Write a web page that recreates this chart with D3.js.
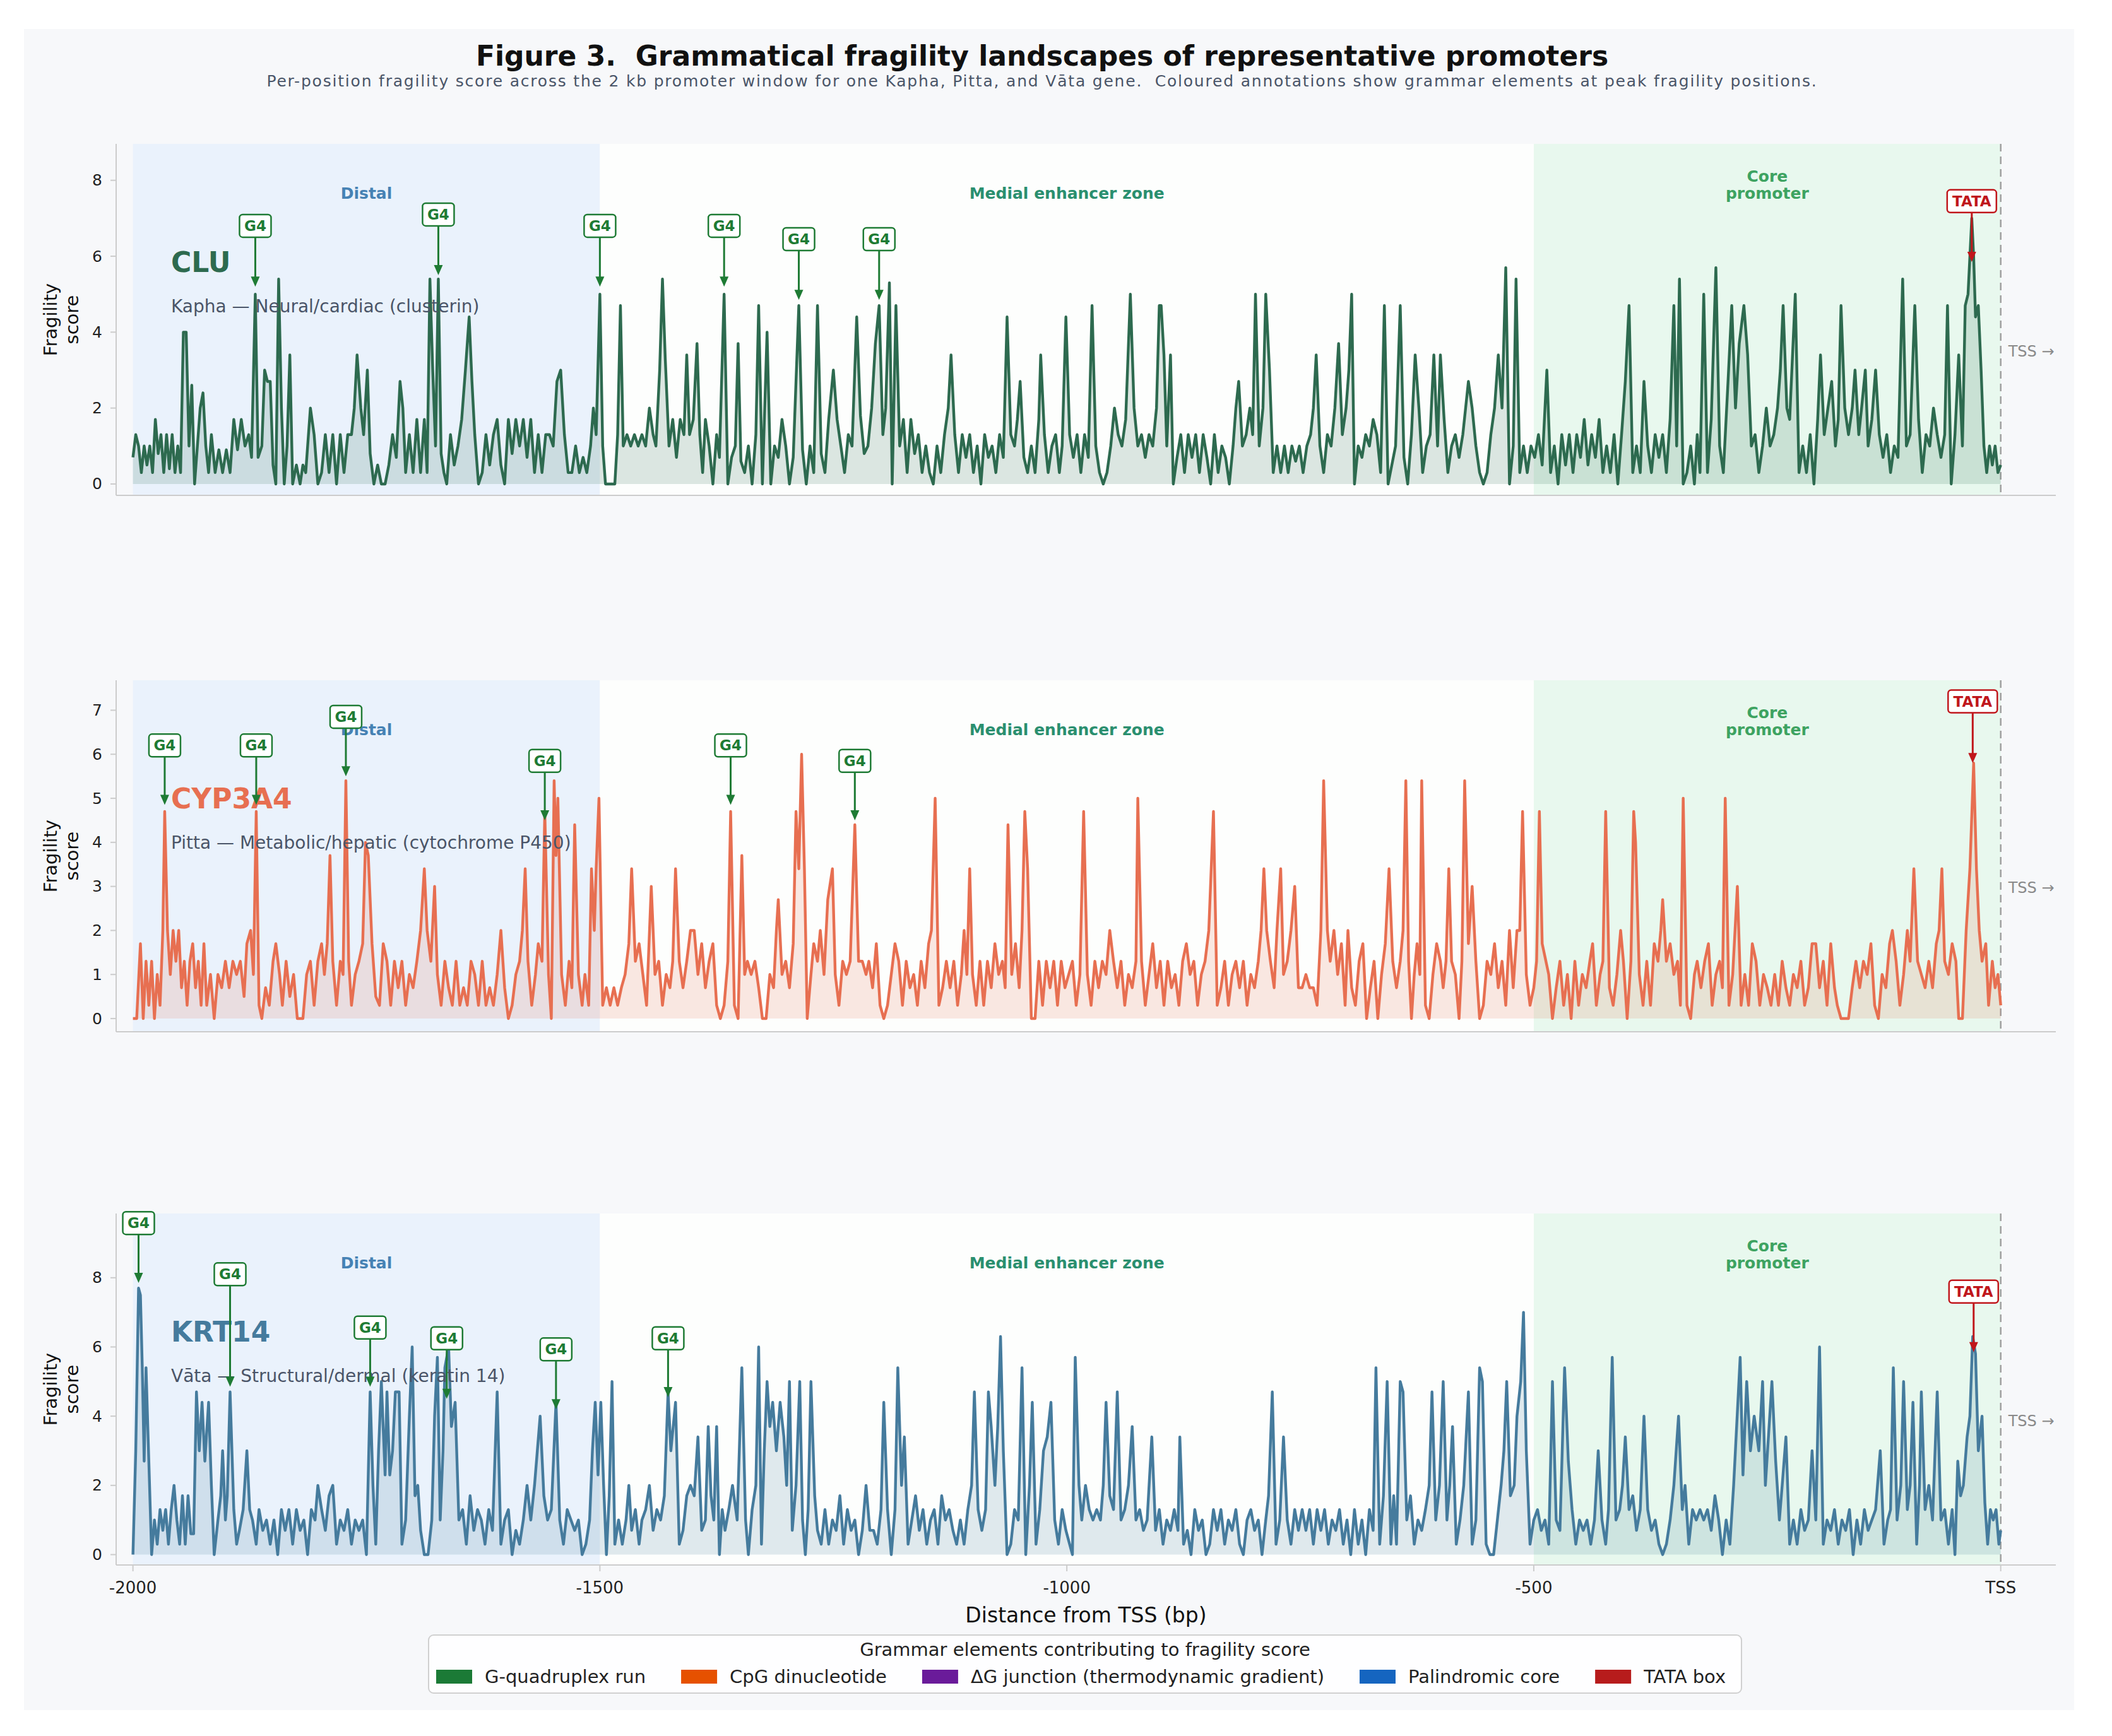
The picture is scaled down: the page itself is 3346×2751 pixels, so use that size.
<!DOCTYPE html>
<html>
<head>
<meta charset="utf-8">
<script src="https://cdn.jsdelivr.net/npm/d3@7"></script>
<style>
  body { margin: 0; background: #fff; }
  svg text { font-family: "DejaVu Sans", sans-serif; white-space: pre; }
</style>
</head>
<body>
<div id="chart"></div>
<script>
// ---- data -------------------------------------------------------------

var zoneNames = ["Distal", "Medial enhancer zone", "Core\npromoter"];
var zoneStarts = [-2000, -1500, -500];
var zoneEnds = [-1500, -500, 0];

var xTickValues = [-2000, -1500, -1000, -500, 0];
var xTickLabels = ["-2000", "-1500", "-1000", "-500", "TSS"];

var geneNames = ["CLU", "CYP3A4", "KRT14"];
var geneNotes = [
  "Kapha — Neural/cardiac (clusterin)",
  "Pitta — Metabolic/hepatic (cytochrome P450)",
  "Vāta — Structural/dermal (keratin 14)"
];

var yTicksClu = [0, 2, 4, 6, 8];
var yTicksCyp = [0, 1, 2, 3, 4, 5, 6, 7];
var yTicksKrt = [0, 2, 4, 6, 8];

var legendLabels = ["G-quadruplex run", "CpG dinucleotide", "ΔG junction (thermodynamic gradient)", "Palindromic core", "TATA box"];

// per-position fragility score, [distance from TSS, score]
var cluTrace = [
  [-2000,0.7],[-1997,1.3],[-1994,1.0],[-1991,0.3],[-1988,1.0],[-1985,0.5],[-1982,1.0],[-1979,0.3],[-1976,1.7],[-1973,0.8],
  [-1970,1.3],[-1967,0.3],[-1964,1.3],[-1961,0.4],[-1958,1.3],[-1955,0.3],[-1952,1.0],[-1949,0.3],[-1946,4.0],[-1943,4.0],
  [-1940,1.0],[-1937,2.6],[-1934,0],[-1931,1.0],[-1928,2.0],[-1925,2.4],[-1922,1.0],[-1919,0.3],[-1916,1.3],[-1912,0.3],
  [-1908,0.9],[-1904,0.3],[-1900,0.9],[-1896,0.3],[-1892,1.7],[-1888,0.9],[-1884,1.7],[-1880,1.0],[-1876,1.3],[-1873,0.7],
  [-1869,5.0],[-1866,0.7],[-1862,1.0],[-1859,3.0],[-1856,2.7],[-1853,2.7],[-1850,0.5],[-1847,0],[-1844,5.4],[-1841,2.0],
  [-1838,0],[-1835,1.0],[-1832,3.4],[-1829,0],[-1825,0.5],[-1821,0],[-1818,0.5],[-1815,0.3],[-1810,2.0],[-1806,1.3],
  [-1802,0],[-1798,0.3],[-1794,1.3],[-1790,0.3],[-1786,1.3],[-1782,0],[-1778,1.3],[-1774,0.3],[-1770,1.3],[-1766,1.3],
  [-1763,2.0],[-1760,3.4],[-1756,2.0],[-1753,1.3],[-1749,3.0],[-1746,0.8],[-1742,0],[-1738,0.5],[-1734,0],[-1730,0],
  [-1726,0.5],[-1722,1.3],[-1718,0.7],[-1714,2.7],[-1711,2.0],[-1708,0.3],[-1704,1.3],[-1700,0.3],[-1696,1.7],[-1692,0.3],
  [-1688,1.7],[-1685,0.3],[-1682,5.4],[-1679,3.0],[-1676,1.0],[-1673,5.4],[-1670,0.8],[-1667,0.3],[-1664,0],[-1660,1.3],
  [-1656,0.5],[-1652,1.0],[-1648,1.7],[-1644,3.0],[-1640,4.4],[-1637,2.7],[-1634,1.3],[-1630,0],[-1626,0.3],[-1622,1.3],
  [-1618,0.5],[-1614,1.3],[-1610,1.7],[-1606,0.5],[-1602,0],[-1598,1.7],[-1594,0.8],[-1590,1.7],[-1586,1.0],[-1582,1.7],
  [-1578,0.7],[-1574,1.7],[-1570,0.3],[-1566,1.3],[-1562,0.3],[-1558,1.3],[-1554,1.3],[-1550,1.0],[-1546,2.7],[-1542,3.0],
  [-1538,1.3],[-1534,0.3],[-1530,0.3],[-1526,1.0],[-1522,0.3],[-1518,0.7],[-1514,0.3],[-1510,1.0],[-1507,2.0],[-1504,1.3],
  [-1500,5.0],[-1497,1.0],[-1494,0],[-1488,0],[-1484,0],[-1481,1.3],[-1478,4.7],[-1475,1.0],[-1471,1.3],[-1467,1.0],
  [-1463,1.3],[-1459,1.0],[-1455,1.3],[-1451,1.0],[-1447,2.0],[-1443,1.3],[-1440,1.0],[-1436,3.0],[-1433,5.4],[-1430,3.3],
  [-1426,1.0],[-1422,1.7],[-1418,0.7],[-1414,1.7],[-1410,1.3],[-1407,3.4],[-1404,1.3],[-1400,1.7],[-1396,3.7],[-1393,1.3],
  [-1390,0.3],[-1387,1.7],[-1383,1.0],[-1379,0],[-1375,1.3],[-1372,0.7],[-1367,5.0],[-1363,0],[-1359,0.7],[-1355,1.0],
  [-1352,3.7],[-1349,0.6],[-1345,0.3],[-1341,1.0],[-1337,0],[-1333,1.3],[-1330,4.7],[-1326,0],[-1321,4.0],[-1317,0],
  [-1313,1.0],[-1309,0.7],[-1305,1.7],[-1301,1.0],[-1297,0],[-1293,0.7],[-1287,4.7],[-1283,0.9],[-1279,0],[-1275,1.0],
  [-1271,0.3],[-1267,4.7],[-1263,0.8],[-1259,0.3],[-1255,1.7],[-1250,3.0],[-1246,1.7],[-1242,1.0],[-1238,0.3],[-1234,1.3],
  [-1230,1.0],[-1225,4.4],[-1221,1.8],[-1217,0.8],[-1213,1.0],[-1209,2.0],[-1205,3.7],[-1201,4.7],[-1197,1.3],[-1194,2.0],
  [-1190,5.3],[-1187,0],[-1183,4.7],[-1179,1.0],[-1175,1.7],[-1171,0.3],[-1167,1.7],[-1163,0.8],[-1159,1.3],[-1155,0.3],
  [-1151,1.0],[-1147,0.3],[-1143,0],[-1139,1.0],[-1135,0.3],[-1131,1.3],[-1127,2.0],[-1124,3.4],[-1120,1.3],[-1116,0.3],
  [-1112,1.3],[-1108,0.7],[-1104,1.3],[-1100,0.3],[-1096,1.0],[-1092,0],[-1088,1.3],[-1084,0.7],[-1080,1.0],[-1076,0.3],
  [-1072,1.3],[-1068,0.7],[-1064,4.4],[-1060,1.3],[-1056,1.0],[-1053,1.7],[-1050,2.7],[-1046,0.7],[-1042,0.3],[-1038,1.0],
  [-1034,0.3],[-1030,1.7],[-1028,3.4],[-1024,1.3],[-1020,0.3],[-1016,1.0],[-1012,1.3],[-1008,0.3],[-1005,1.0],[-1001,4.4],
  [-997,1.3],[-993,0.7],[-989,1.3],[-985,0.3],[-981,1.3],[-977,0.7],[-973,4.7],[-969,1.0],[-965,0.3],[-961,0],
  [-957,0.3],[-953,1.0],[-949,2.0],[-945,1.3],[-941,1.0],[-937,1.7],[-932,5.0],[-928,2.0],[-924,1.0],[-920,1.3],
  [-916,0.7],[-912,1.3],[-908,1.0],[-904,2.0],[-901,4.7],[-899,4.7],[-896,3.4],[-893,1.0],[-889,3.4],[-886,0],
  [-882,0.7],[-878,1.3],[-874,0.3],[-870,1.3],[-866,0.7],[-862,1.3],[-858,0.3],[-854,1.3],[-850,0.7],[-846,0],
  [-842,1.3],[-838,0.3],[-834,1.0],[-830,0.7],[-826,0],[-822,1.0],[-819,2.0],[-816,2.7],[-812,1.0],[-808,1.3],
  [-804,2.0],[-801,1.3],[-798,5.0],[-794,1.0],[-790,2.0],[-787,5.0],[-783,3.0],[-779,0.3],[-775,1.0],[-771,0.3],
  [-767,1.0],[-763,0.3],[-759,1.0],[-755,0.6],[-751,1.0],[-747,0.3],[-743,1.0],[-739,1.3],[-736,2.0],[-733,3.4],
  [-729,1.0],[-725,0.3],[-721,1.3],[-717,1.0],[-713,2.0],[-709,3.7],[-705,1.3],[-701,2.0],[-698,3.0],[-695,5.0],
  [-692,0],[-688,1.0],[-684,0.7],[-680,1.3],[-676,1.0],[-672,1.7],[-668,1.3],[-664,0.3],[-660,4.7],[-656,0],
  [-652,0.5],[-648,1.0],[-643,4.7],[-639,0.7],[-635,0],[-631,1.3],[-627,3.4],[-623,2.0],[-619,0.3],[-615,1.0],
  [-611,1.3],[-607,3.4],[-603,1.0],[-600,3.4],[-596,1.7],[-592,0.3],[-588,1.0],[-584,1.3],[-580,0.7],[-576,1.3],
  [-573,2.0],[-570,2.7],[-566,2.0],[-562,1.0],[-558,0.3],[-554,0],[-550,0.3],[-546,1.3],[-542,2.0],[-538,3.4],
  [-534,2.0],[-530,5.7],[-526,0],[-522,1.0],[-519,5.4],[-515,0.3],[-511,1.0],[-507,0.3],[-503,1.0],[-499,0.7],
  [-495,1.3],[-491,0.5],[-486,3.0],[-482,0.3],[-478,1.0],[-474,0],[-470,1.3],[-466,0.5],[-462,1.3],[-458,0.3],
  [-454,1.3],[-450,0.7],[-446,1.7],[-442,0.5],[-438,1.3],[-434,0.7],[-430,1.7],[-426,0.3],[-422,1.0],[-418,0.3],
  [-414,1.3],[-410,0],[-406,1.3],[-402,2.7],[-398,4.7],[-394,0.3],[-390,1.0],[-386,0.3],[-382,2.7],[-378,1.0],
  [-374,0.3],[-370,1.3],[-366,0.7],[-362,1.3],[-358,0.3],[-354,1.7],[-350,4.7],[-347,1.0],[-344,5.4],[-340,0],
  [-336,0.3],[-332,1.0],[-328,0],[-325,1.3],[-322,0.3],[-318,5.0],[-314,0.3],[-310,1.7],[-305,5.7],[-301,1.0],
  [-297,0.3],[-292,2.7],[-288,4.7],[-284,2.0],[-280,3.7],[-275,4.7],[-271,3.4],[-267,1.0],[-263,1.3],[-259,0.3],
  [-255,1.0],[-251,2.0],[-247,1.0],[-243,1.3],[-239,2.0],[-236,3.0],[-233,4.7],[-229,2.0],[-226,1.7],[-220,5.0],
  [-216,0.3],[-212,1.0],[-208,0.3],[-204,1.3],[-200,0],[-196,1.7],[-193,3.4],[-189,1.3],[-185,2.0],[-181,2.7],
  [-177,1.0],[-174,1.7],[-171,4.7],[-167,2.0],[-163,1.3],[-159,2.0],[-156,3.0],[-152,1.3],[-149,2.0],[-145,3.0],
  [-142,1.0],[-138,1.7],[-134,3.0],[-130,1.3],[-126,0.7],[-122,1.3],[-118,0.3],[-114,1.0],[-110,0.7],[-105,5.4],
  [-101,1.0],[-97,1.3],[-92,4.7],[-88,1.7],[-84,0.3],[-80,1.3],[-76,1.0],[-72,2.0],[-68,1.3],[-64,0.7],
  [-60,1.3],[-57,4.7],[-53,0],[-49,1.3],[-45,3.4],[-41,1.0],[-38,4.7],[-35,5.0],[-31,7.0],[-29,6.0],
  [-27,4.4],[-24,4.7],[-21,3.0],[-18,1.0],[-15,0.3],[-12,1.0],[-9,0.5],[-6,1.0],[-3,0.3],[0,0.5]
];

var cypTrace = [
  [-2000,0],[-1996,0],[-1992,1.7],[-1989,0],[-1986,1.3],[-1983,0.3],[-1980,1.3],[-1977,0],[-1974,1.0],[-1971,0.3],
  [-1968,2.0],[-1966,4.7],[-1963,2.0],[-1960,1.0],[-1957,2.0],[-1954,1.3],[-1951,2.0],[-1948,0.7],[-1945,1.3],[-1942,0.3],
  [-1939,1.3],[-1936,1.7],[-1933,0.7],[-1930,1.3],[-1927,0.3],[-1924,1.7],[-1921,0.3],[-1917,1.0],[-1913,0],[-1909,1.0],
  [-1905,0.7],[-1901,1.3],[-1897,0.7],[-1893,1.3],[-1889,1.0],[-1885,1.3],[-1881,0.5],[-1878,1.7],[-1874,2.0],[-1871,1.0],
  [-1868,4.7],[-1865,0.3],[-1862,0],[-1858,0.7],[-1854,0.3],[-1850,1.3],[-1847,1.7],[-1843,1.0],[-1840,0.3],[-1836,1.3],
  [-1832,0.5],[-1828,1.0],[-1824,0],[-1818,0],[-1814,1.0],[-1810,1.3],[-1806,0.3],[-1802,1.3],[-1798,1.7],[-1795,1.0],
  [-1792,1.7],[-1789,3.7],[-1786,1.3],[-1782,0.3],[-1778,1.3],[-1775,1.0],[-1772,5.4],[-1769,1.3],[-1766,0.3],[-1762,1.0],
  [-1758,1.3],[-1754,1.7],[-1751,4.0],[-1748,3.7],[-1744,1.7],[-1740,0.5],[-1736,0.3],[-1732,1.7],[-1728,1.3],[-1724,0.3],
  [-1720,1.3],[-1716,0.7],[-1712,1.3],[-1708,0.3],[-1704,1.0],[-1700,0.7],[-1696,1.3],[-1692,2.0],[-1688,3.4],[-1685,2.0],
  [-1681,1.3],[-1677,3.0],[-1674,1.0],[-1670,0.3],[-1666,1.3],[-1662,0.7],[-1658,0.3],[-1654,1.3],[-1650,0.3],[-1646,0.7],
  [-1642,0.3],[-1638,1.3],[-1634,1.0],[-1630,0.3],[-1626,1.3],[-1622,0.3],[-1618,0.7],[-1614,0.3],[-1610,1.0],[-1606,2.0],
  [-1602,0.7],[-1598,0],[-1594,0.3],[-1590,1.0],[-1586,1.3],[-1583,2.0],[-1580,3.4],[-1577,1.3],[-1573,0.3],[-1569,1.0],
  [-1566,1.7],[-1562,1.3],[-1559,4.7],[-1555,1.0],[-1552,0],[-1549,5.4],[-1547,3.7],[-1545,5.0],[-1541,1.0],[-1537,0.3],
  [-1533,1.3],[-1530,0.7],[-1527,4.4],[-1523,1.0],[-1519,0.3],[-1516,1.0],[-1512,0.3],[-1509,3.4],[-1506,2.0],[-1504,3.4],
  [-1501,5.0],[-1497,0.3],[-1493,0.7],[-1489,0.3],[-1485,0.7],[-1481,0.3],[-1477,0.7],[-1473,1.0],[-1469,1.7],[-1466,3.4],
  [-1462,1.3],[-1458,1.7],[-1454,1.0],[-1450,0.3],[-1445,3.0],[-1441,1.0],[-1437,1.3],[-1433,0.3],[-1429,1.0],[-1425,0.7],
  [-1422,1.3],[-1419,3.4],[-1415,1.3],[-1411,0.7],[-1407,1.3],[-1403,2.0],[-1399,2.0],[-1395,1.0],[-1391,1.7],[-1387,0.7],
  [-1383,1.3],[-1379,1.7],[-1375,0.3],[-1371,0],[-1367,0.3],[-1363,1.3],[-1360,4.7],[-1356,0.3],[-1352,0],[-1348,3.7],
  [-1345,1.0],[-1342,1.3],[-1338,1.0],[-1334,1.3],[-1330,0.7],[-1326,0],[-1322,0],[-1318,1.0],[-1314,0.7],[-1311,2.0],
  [-1309,2.7],[-1305,1.0],[-1301,1.3],[-1297,0.7],[-1293,1.7],[-1290,4.7],[-1287,3.4],[-1284,6.0],[-1281,3.4],[-1278,0],
  [-1274,1.0],[-1271,1.7],[-1267,1.3],[-1264,2.0],[-1260,1.0],[-1256,2.7],[-1251,3.4],[-1248,1.0],[-1244,0.3],[-1240,1.3],
  [-1236,1.0],[-1232,1.3],[-1227,4.4],[-1223,1.3],[-1219,1.3],[-1215,1.0],[-1212,1.3],[-1208,0.7],[-1204,1.7],[-1200,0.3],
  [-1196,0],[-1192,0.3],[-1188,1.0],[-1184,1.7],[-1180,1.3],[-1176,0.3],[-1172,1.3],[-1168,0.7],[-1164,1.0],[-1160,0.3],
  [-1156,1.3],[-1152,0.7],[-1148,1.7],[-1145,2.0],[-1141,5.0],[-1137,0.3],[-1133,0.7],[-1129,1.3],[-1125,0.7],[-1121,1.3],
  [-1117,0.3],[-1113,1.0],[-1110,2.0],[-1107,1.0],[-1104,3.4],[-1101,1.0],[-1097,0.3],[-1093,1.3],[-1089,0.3],[-1085,1.3],
  [-1081,0.7],[-1077,1.7],[-1073,1.0],[-1069,1.3],[-1066,0.7],[-1063,4.4],[-1059,1.0],[-1055,1.7],[-1051,0.7],[-1048,2.0],
  [-1045,4.7],[-1042,3.4],[-1038,0],[-1034,0],[-1030,1.3],[-1026,0.3],[-1022,1.3],[-1018,0.7],[-1014,1.3],[-1010,0.3],
  [-1006,1.3],[-1002,0.7],[-998,1.0],[-994,1.3],[-990,0.3],[-986,1.0],[-982,4.7],[-978,1.0],[-974,0.3],[-970,1.3],
  [-966,0.7],[-962,1.3],[-958,1.0],[-954,2.0],[-950,1.3],[-946,0.7],[-942,1.3],[-938,0.3],[-934,1.0],[-930,0.7],
  [-926,1.3],[-924,5.0],[-920,1.3],[-916,0.3],[-912,1.0],[-908,1.7],[-904,0.7],[-900,1.3],[-896,0.3],[-892,1.3],
  [-888,0.7],[-884,1.0],[-880,0.3],[-876,1.3],[-872,1.7],[-868,1.0],[-864,1.3],[-860,0.3],[-856,1.0],[-852,1.3],
  [-848,2.0],[-843,4.7],[-839,0.3],[-835,0.7],[-831,1.3],[-827,0.3],[-823,1.0],[-819,1.3],[-815,0.7],[-811,1.3],
  [-807,0.3],[-803,1.0],[-799,0.7],[-795,1.3],[-792,2.0],[-789,3.4],[-786,2.0],[-782,1.3],[-778,0.7],[-775,2.0],
  [-771,3.4],[-768,1.0],[-764,1.3],[-760,2.0],[-756,3.0],[-752,0.7],[-748,0.7],[-744,1.0],[-740,0.7],[-736,0.7],
  [-732,0.3],[-728,2.0],[-725,5.4],[-721,2.0],[-718,1.3],[-714,2.0],[-710,1.0],[-706,1.7],[-702,0.3],[-699,2.0],
  [-695,0.7],[-691,0.3],[-687,1.3],[-683,1.7],[-679,0],[-675,0.7],[-671,1.3],[-667,0],[-663,1.0],[-659,1.7],
  [-655,3.4],[-651,1.3],[-647,0.7],[-643,1.3],[-640,2.0],[-637,5.4],[-634,1.3],[-631,0],[-628,1.0],[-625,1.7],
  [-622,1.0],[-620,5.4],[-616,0.3],[-612,0],[-608,1.0],[-604,1.7],[-600,1.3],[-597,0.7],[-594,1.3],[-591,3.4],
  [-588,1.3],[-584,1.0],[-580,0],[-577,1.3],[-574,5.4],[-570,1.7],[-566,3.0],[-562,1.3],[-558,0],[-554,0.3],
  [-550,1.3],[-546,1.0],[-542,1.7],[-538,0.7],[-534,1.3],[-530,0.3],[-526,2.0],[-522,0.7],[-518,2.0],[-515,2.0],
  [-512,4.7],[-508,1.0],[-504,0.3],[-500,0.7],[-497,1.3],[-494,4.7],[-491,1.7],[-487,1.3],[-484,1.0],[-480,0],
  [-476,0.7],[-472,1.3],[-468,0.3],[-464,1.0],[-460,0],[-456,1.3],[-452,0.3],[-448,1.0],[-444,0.7],[-440,1.3],
  [-437,1.7],[-433,0.3],[-429,1.0],[-426,1.3],[-423,4.7],[-419,0.7],[-415,0.3],[-411,1.0],[-407,2.0],[-404,1.3],
  [-400,0],[-396,1.3],[-393,4.7],[-391,4.0],[-387,1.0],[-383,0.3],[-379,1.3],[-375,0.3],[-371,1.7],[-367,1.3],
  [-364,2.0],[-362,2.7],[-358,1.3],[-354,1.7],[-350,1.0],[-346,1.3],[-343,0.3],[-340,5.0],[-336,0.3],[-332,0],
  [-328,1.0],[-325,1.3],[-321,0.7],[-317,1.3],[-313,1.7],[-309,0.3],[-305,1.0],[-301,1.3],[-298,0.7],[-295,5.0],
  [-291,0.3],[-287,1.0],[-282,3.0],[-278,0.3],[-274,1.0],[-270,0.3],[-266,1.7],[-262,1.3],[-258,0.3],[-254,1.0],
  [-250,0.7],[-246,0.3],[-242,1.0],[-238,0.3],[-234,1.3],[-230,0.7],[-226,0.3],[-222,1.0],[-218,0.7],[-214,1.3],
  [-210,0.3],[-206,0.7],[-202,1.7],[-198,1.7],[-194,0.7],[-190,1.3],[-186,0.3],[-182,1.7],[-178,0.7],[-175,0.3],
  [-171,0],[-163,0],[-159,0.7],[-155,1.3],[-151,0.7],[-147,1.3],[-143,1.0],[-139,1.7],[-135,0.3],[-131,0],
  [-127,1.0],[-123,0.7],[-119,1.7],[-116,2.0],[-112,1.3],[-108,0.3],[-104,1.0],[-100,2.0],[-97,1.3],[-93,3.4],
  [-89,1.3],[-85,1.0],[-81,0.7],[-77,1.3],[-73,0.7],[-69,1.7],[-66,2.0],[-63,3.4],[-60,1.3],[-56,1.0],
  [-52,1.7],[-48,1.3],[-45,0],[-41,0],[-37,2.0],[-33,3.4],[-29,5.8],[-26,3.4],[-23,2.0],[-20,1.3],
  [-16,1.7],[-13,0.3],[-9,1.3],[-6,0.7],[-3,1.0],[0,0.3]
];

var krtTrace = [
  [-2000,0],[-1997,3.0],[-1994,7.7],[-1992,7.5],[-1990,5.4],[-1988,2.7],[-1986,5.4],[-1983,2.7],[-1980,0],[-1977,1.0],
  [-1974,0.3],[-1971,1.3],[-1968,0.7],[-1965,1.3],[-1962,0.3],[-1959,1.3],[-1956,2.0],[-1953,1.0],[-1950,0.3],[-1947,1.7],
  [-1944,0.3],[-1941,1.7],[-1938,0.6],[-1935,0.6],[-1932,4.7],[-1929,3.0],[-1926,4.4],[-1923,2.7],[-1919,4.4],[-1916,2.0],
  [-1913,0],[-1909,1.0],[-1906,1.7],[-1904,3.0],[-1901,1.0],[-1899,1.7],[-1896,4.7],[-1892,1.3],[-1889,0.3],[-1886,0.7],
  [-1882,1.3],[-1878,3.0],[-1875,1.3],[-1872,1.0],[-1868,0.3],[-1865,1.3],[-1861,0.7],[-1857,1.0],[-1853,0.3],[-1849,1.0],
  [-1845,0],[-1841,1.3],[-1837,0.7],[-1833,1.3],[-1829,0.3],[-1825,1.3],[-1821,0.7],[-1817,1.0],[-1813,0],[-1809,1.3],
  [-1805,1.0],[-1802,2.0],[-1798,1.3],[-1794,0.7],[-1790,1.7],[-1786,2.0],[-1782,0.3],[-1778,1.0],[-1774,0.7],[-1770,1.3],
  [-1766,0.3],[-1762,1.0],[-1758,0.7],[-1754,1.0],[-1750,0],[-1746,4.7],[-1743,2.0],[-1740,0.3],[-1737,3.0],[-1734,5.0],
  [-1730,2.3],[-1728,4.7],[-1725,2.3],[-1722,3.0],[-1719,4.7],[-1715,4.7],[-1712,0.3],[-1708,1.0],[-1704,4.0],[-1701,6.0],
  [-1698,1.7],[-1695,2.0],[-1692,0.7],[-1688,0],[-1684,0],[-1680,1.0],[-1677,4.0],[-1674,5.7],[-1671,1.0],[-1668,3.0],
  [-1666,5.4],[-1662,6.0],[-1659,3.7],[-1655,4.4],[-1651,1.0],[-1647,1.3],[-1643,0.3],[-1639,1.7],[-1635,0.7],[-1631,1.3],
  [-1627,1.0],[-1623,0.3],[-1619,1.3],[-1615,0.7],[-1610,4.7],[-1606,0.3],[-1602,1.0],[-1598,1.3],[-1594,0],[-1590,0.7],
  [-1586,0.3],[-1582,1.0],[-1578,2.0],[-1574,1.0],[-1570,2.0],[-1567,3.0],[-1564,4.0],[-1560,1.7],[-1556,1.0],[-1552,1.3],
  [-1547,4.4],[-1543,1.0],[-1539,0.3],[-1535,1.3],[-1531,1.0],[-1527,0.7],[-1523,1.0],[-1519,0],[-1515,0.3],[-1511,1.0],
  [-1508,3.0],[-1505,4.4],[-1502,2.3],[-1499,4.4],[-1496,2.0],[-1493,0],[-1490,1.7],[-1487,5.0],[-1484,0.3],[-1480,1.0],
  [-1476,0.3],[-1472,1.0],[-1469,2.0],[-1466,0.7],[-1462,1.3],[-1458,0.3],[-1455,1.0],[-1451,1.3],[-1447,2.0],[-1443,0.7],
  [-1439,1.3],[-1435,1.0],[-1431,1.7],[-1427,4.7],[-1424,3.0],[-1419,4.4],[-1415,0.3],[-1411,0.7],[-1407,1.7],[-1403,2.0],
  [-1399,1.7],[-1395,3.4],[-1391,0.7],[-1387,1.0],[-1384,3.7],[-1381,1.7],[-1378,1.0],[-1375,3.7],[-1372,0],[-1369,1.3],
  [-1366,0.7],[-1362,1.3],[-1358,2.0],[-1353,1.0],[-1348,5.4],[-1344,1.0],[-1341,0],[-1337,1.3],[-1333,2.0],[-1330,6.0],
  [-1327,0.3],[-1324,3.0],[-1321,5.0],[-1318,3.7],[-1315,4.4],[-1311,3.0],[-1307,4.4],[-1303,3.4],[-1300,2.0],[-1297,5.0],
  [-1294,0.7],[-1290,2.0],[-1286,5.0],[-1283,1.0],[-1280,0],[-1277,1.3],[-1274,5.0],[-1270,1.7],[-1267,0.7],[-1263,0.3],
  [-1259,1.3],[-1255,0.3],[-1251,1.0],[-1247,0.7],[-1243,1.7],[-1239,0.3],[-1235,1.3],[-1231,0.7],[-1227,1.0],[-1223,0],
  [-1219,0.7],[-1215,2.0],[-1211,0.7],[-1207,0.7],[-1203,0.3],[-1199,1.3],[-1196,4.4],[-1192,1.3],[-1188,0],[-1184,1.3],
  [-1181,5.4],[-1177,2.0],[-1174,3.4],[-1170,0.3],[-1166,1.0],[-1162,1.7],[-1158,0.7],[-1154,1.3],[-1150,0.3],[-1146,1.0],
  [-1142,1.3],[-1138,0.3],[-1134,1.7],[-1130,1.0],[-1126,1.3],[-1122,0.7],[-1118,0.3],[-1114,1.0],[-1110,0.3],[-1106,1.3],
  [-1102,2.0],[-1099,4.7],[-1095,1.3],[-1091,0.7],[-1087,1.3],[-1084,4.7],[-1081,3.7],[-1077,2.0],[-1074,3.7],[-1071,6.3],
  [-1068,3.0],[-1064,0],[-1060,0.3],[-1056,1.3],[-1052,1.0],[-1048,5.4],[-1044,0],[-1040,2.0],[-1037,4.4],[-1033,0.3],
  [-1029,1.3],[-1025,3.0],[-1021,3.4],[-1017,4.4],[-1013,1.0],[-1009,0.3],[-1005,1.3],[-1001,0.7],[-997,0.3],[-994,0],
  [-991,5.7],[-987,2.0],[-984,1.0],[-980,2.0],[-976,1.3],[-972,1.0],[-968,1.3],[-964,1.0],[-961,2.0],[-958,4.4],
  [-954,1.7],[-950,1.3],[-946,4.7],[-942,1.0],[-938,1.3],[-934,2.0],[-930,3.7],[-926,1.0],[-922,1.3],[-918,0.7],
  [-914,1.0],[-909,3.4],[-905,0.7],[-901,1.3],[-897,0.3],[-893,1.0],[-889,0.7],[-885,1.3],[-881,0.7],[-879,3.4],
  [-875,0.3],[-871,0.7],[-867,0],[-863,1.3],[-859,0.7],[-855,1.0],[-851,0],[-847,0.3],[-843,1.3],[-839,0.7],
  [-835,1.3],[-831,0.3],[-827,1.0],[-823,0.7],[-819,1.3],[-815,0.3],[-811,0],[-807,1.0],[-803,1.3],[-799,0.7],
  [-795,1.0],[-791,0],[-787,1.0],[-784,1.7],[-780,4.7],[-776,0.3],[-772,1.0],[-768,3.4],[-764,1.0],[-760,0.3],
  [-756,1.3],[-752,0.7],[-748,1.3],[-744,0.7],[-740,1.3],[-736,0.3],[-732,1.3],[-728,0.7],[-724,1.3],[-720,0.3],
  [-716,1.0],[-712,0.7],[-708,1.3],[-704,0.3],[-700,1.0],[-696,0],[-692,1.3],[-688,0.3],[-684,1.0],[-680,0],
  [-676,1.3],[-672,0.7],[-669,5.4],[-665,0.3],[-661,1.7],[-657,5.0],[-653,0.3],[-650,1.7],[-647,0.3],[-643,5.0],
  [-640,4.7],[-636,1.0],[-632,1.7],[-628,0.3],[-624,1.0],[-620,0.7],[-616,1.3],[-612,2.0],[-609,4.7],[-605,1.0],
  [-601,2.0],[-597,5.0],[-593,1.0],[-590,2.0],[-587,3.7],[-583,0.3],[-579,1.0],[-575,2.0],[-570,4.7],[-566,0.3],
  [-562,1.0],[-558,5.4],[-555,5.0],[-551,0.3],[-547,0],[-543,0],[-539,1.0],[-535,2.0],[-532,3.0],[-529,5.0],
  [-525,1.7],[-521,2.0],[-518,4.0],[-514,5.0],[-511,7.0],[-508,3.0],[-504,0.3],[-500,1.0],[-496,1.3],[-492,0.7],
  [-488,1.0],[-484,0.3],[-480,5.0],[-476,1.0],[-472,0.7],[-467,5.4],[-463,2.7],[-459,1.3],[-455,0.3],[-451,1.0],
  [-447,0.7],[-443,1.0],[-439,0.3],[-435,1.0],[-431,3.0],[-427,1.0],[-423,0.3],[-420,1.3],[-416,5.7],[-412,1.0],
  [-408,1.3],[-405,2.0],[-402,3.4],[-398,1.3],[-394,1.7],[-390,0.7],[-386,1.3],[-382,4.0],[-378,1.3],[-374,0.7],
  [-370,1.0],[-366,0.3],[-362,0],[-358,0.3],[-354,1.0],[-350,2.0],[-345,4.0],[-341,1.3],[-338,2.0],[-334,0.3],
  [-330,1.3],[-326,1.0],[-322,1.3],[-318,1.0],[-314,1.3],[-310,0.7],[-306,1.7],[-302,1.0],[-298,0],[-294,1.0],
  [-290,0.3],[-286,2.0],[-279,5.7],[-276,2.3],[-272,5.0],[-268,3.0],[-264,4.0],[-259,3.0],[-255,5.0],[-252,2.0],
  [-245,5.0],[-241,2.7],[-237,1.0],[-234,2.0],[-230,3.4],[-226,0.3],[-222,1.0],[-218,0.3],[-214,1.3],[-210,0.7],
  [-206,1.0],[-202,3.0],[-198,1.0],[-194,6.0],[-190,0.3],[-186,1.0],[-182,0.7],[-178,1.3],[-174,0.3],[-170,1.0],
  [-166,0.7],[-162,1.3],[-158,0],[-154,1.0],[-150,0.3],[-146,1.3],[-142,0.7],[-138,1.0],[-134,1.3],[-129,3.0],
  [-125,0.3],[-121,1.0],[-118,1.3],[-115,5.4],[-111,1.0],[-107,2.0],[-104,5.0],[-100,1.3],[-97,2.0],[-94,4.4],
  [-90,0.3],[-87,2.0],[-85,4.7],[-81,1.3],[-77,2.0],[-73,1.0],[-68,4.7],[-64,1.0],[-60,1.3],[-56,0.3],
  [-52,1.3],[-49,0],[-46,2.7],[-43,1.7],[-40,2.0],[-36,3.4],[-33,4.0],[-30,6.3],[-27,5.8],[-24,3.0],
  [-20,4.0],[-17,1.5],[-14,0.3],[-11,1.3],[-8,1.0],[-5,1.3],[-2,0.3],[0,0.7]
];

// grammar-element call-outs: [position, element, arrow tip score, label score]
var cluMarks = [
  [-1869, "G4", 5.2, 6.8], [-1673, "G4", 5.5, 7.1], [-1500, "G4", 5.2, 6.8],
  [-1367, "G4", 5.2, 6.8], [-1287, "G4", 4.85, 6.45], [-1201, "G4", 4.85, 6.45],
  [-31, "TATA", 5.85, 7.45]
];
var cypMarks = [
  [-1966, "G4", 4.85, 6.2], [-1868, "G4", 4.85, 6.2], [-1772, "G4", 5.5, 6.85],
  [-1559, "G4", 4.5, 5.85], [-1360, "G4", 4.85, 6.2], [-1227, "G4", 4.5, 5.85],
  [-30, "TATA", 5.8, 7.2]
];
var krtMarks = [
  [-1994, "G4", 7.85, 9.58], [-1896, "G4", 4.85, 8.1], [-1746, "G4", 4.85, 6.56],
  [-1664, "G4", 4.5, 6.25], [-1547, "G4", 4.2, 5.93], [-1427, "G4", 4.55, 6.25],
  [-29, "TATA", 5.85, 7.6]
];

// ---- drawing ----------------------------------------------------------

var Chart = (function() {
  var W = 3346, H = 2751;

  // styling lives here, not in the data above
  var geneColors = ["#2D6A4F", "#E76F51", "#457B9D"];
  var zoneFills = ["#EAF2FC", "#FDFEFD", "#E8F8EE"];
  var zoneText = ["#4682B4", "#2A8F6F", "#3DA361"];
  var markColors = { G4: "#1E7B34", TATA: "#C0161B" };
  var legendColors = ["#1B7A36", "#E65100", "#6A1B9A", "#1565C0", "#B71C1C"];

  var axLeft = 184, axRight = 3257;
  var panelTops = [228, 1078, 1923];
  var panelH = 557;

  function init() {
    var svg = d3.select("#chart").append("svg")
      .attr("width", W)
      .attr("height", H);

    svg.append("rect").attr("width", W).attr("height", H).attr("fill", "#fff");
    svg.append("rect")
      .attr("x", 38).attr("y", 46)
      .attr("width", 3248).attr("height", 2664)
      .attr("fill", "#F7F8FA");

    svg.append("text")
      .attr("x", 1651).attr("y", 88)
      .attr("text-anchor", "middle").attr("dominant-baseline", "central")
      .attr("font-size", 44).attr("font-weight", "bold").attr("fill", "#111")
      .text("Figure 3.  Grammatical fragility landscapes of representative promoters");
    svg.append("text")
      .attr("x", 1651).attr("y", 128)
      .attr("text-anchor", "middle").attr("dominant-baseline", "central")
      .attr("font-size", 25).attr("letter-spacing", 1.8).attr("fill", "#4A5568")
      .text("Per-position fragility score across the 2 kb promoter window for one Kapha, Pitta, and Vāta gene.  Coloured annotations show grammar elements at peak fragility positions.");

    var x = d3.scaleLinear().domain([-2018, 59]).range([axLeft, axRight]);

    var traces = [cluTrace, cypTrace, krtTrace];
    var marks = [cluMarks, cypMarks, krtMarks];
    var yTicks = [yTicksClu, yTicksCyp, yTicksKrt];

    for (var i = 0; i < 3; i++) {
      drawPanel(svg, x, i, traces[i], marks[i], yTicks[i], i === 2);
    }

    drawLegend(svg);
  }

  function drawPanel(svg, x, idx, trace, marks, ticks, showX) {
    var top = panelTops[idx], bottom = top + panelH;
    var peak = d3.max(trace, function(d) { return d[1]; });
    var y = d3.scaleLinear().domain([-0.3, peak * 1.28]).range([bottom, top]);
    var color = geneColors[idx];
    var g = svg.append("g").attr("class", "panel");

    // zone shading
    for (var z = 0; z < zoneNames.length; z++) {
      g.append("rect")
        .attr("x", x(zoneStarts[z])).attr("y", top)
        .attr("width", x(zoneEnds[z]) - x(zoneStarts[z])).attr("height", panelH)
        .attr("fill", zoneFills[z]);
      var lines = zoneNames[z].split("\n");
      var cx = x((zoneStarts[z] + zoneEnds[z]) / 2);
      lines.forEach(function(txt, k) {
        g.append("text")
          .attr("x", cx).attr("y", top + 78 - (lines.length - 1 - k) * 27)
          .attr("text-anchor", "middle").attr("dominant-baseline", "central")
          .attr("font-size", 25).attr("font-weight", "bold").attr("fill", zoneText[z])
          .text(txt);
      });
    }

    // TSS marker
    g.append("line")
      .attr("x1", x(0)).attr("x2", x(0)).attr("y1", top).attr("y2", bottom)
      .attr("stroke", "#A0A0A0").attr("stroke-width", 2.5).attr("stroke-dasharray", "12,8");
    g.append("text")
      .attr("x", x(0) + 12).attr("y", bottom - 0.41 * panelH)
      .attr("dominant-baseline", "central")
      .attr("font-size", 24).attr("fill", "#8A8A8A")
      .text("TSS →");

    // spines
    g.append("line").attr("x1", axLeft).attr("x2", axLeft).attr("y1", top).attr("y2", bottom)
      .attr("stroke", "#CCCCCC").attr("stroke-width", 2);
    g.append("line").attr("x1", axLeft).attr("x2", axRight).attr("y1", bottom).attr("y2", bottom)
      .attr("stroke", "#CCCCCC").attr("stroke-width", 2);

    // y axis
    ticks.forEach(function(t) {
      g.append("line").attr("x1", axLeft - 9).attr("x2", axLeft).attr("y1", y(t)).attr("y2", y(t))
        .attr("stroke", "#CCCCCC").attr("stroke-width", 2);
      g.append("text")
        .attr("x", axLeft - 22).attr("y", y(t))
        .attr("text-anchor", "end").attr("dominant-baseline", "central")
        .attr("font-size", 25).attr("fill", "#222")
        .text(t);
    });
    var ylab = g.append("text")
      .attr("transform", "translate(96," + (top + panelH / 2) + ") rotate(-90)")
      .attr("text-anchor", "middle").attr("font-size", 29).attr("fill", "#111");
    ylab.append("tspan").attr("x", 0).attr("dy", "-0.2em").text("Fragility");
    ylab.append("tspan").attr("x", 0).attr("dy", "1.15em").text("score");

    // trace
    var area = d3.area()
      .x(function(d) { return x(d[0]); })
      .y0(y(0))
      .y1(function(d) { return y(d[1]); });
    var line = d3.line()
      .x(function(d) { return x(d[0]); })
      .y(function(d) { return y(d[1]); });

    g.append("path").datum(trace).attr("d", area)
      .attr("fill", color).attr("fill-opacity", 0.16);
    g.append("path").datum(trace).attr("d", line)
      .attr("fill", "none").attr("stroke", color).attr("stroke-width", 4.4)
      .attr("stroke-linejoin", "round");

    // gene label
    g.append("text")
      .attr("x", 271).attr("y", top + 187)
      .attr("dominant-baseline", "central")
      .attr("font-size", 44).attr("font-weight", "bold").attr("fill", color)
      .text(geneNames[idx]);
    g.append("text")
      .attr("x", 271).attr("y", top + 257)
      .attr("dominant-baseline", "central")
      .attr("font-size", 28).attr("fill", "#4A5568")
      .text(geneNotes[idx]);

    // annotations
    marks.forEach(function(m) {
      var mc = markColors[m[1]];
      var mx = x(m[0]), tipY = y(m[2]), boxY = y(m[3]);
      var bw = m[1] === "TATA" ? 78 : 50, bh = 36;
      g.append("line")
        .attr("x1", mx).attr("x2", mx).attr("y1", boxY + bh / 2).attr("y2", tipY - 12)
        .attr("stroke", mc).attr("stroke-width", 3);
      g.append("path")
        .attr("d", "M" + (mx - 7) + "," + (tipY - 16) + "L" + (mx + 7) + "," + (tipY - 16) + "L" + mx + "," + tipY + "Z")
        .attr("fill", mc);
      g.append("rect")
        .attr("x", mx - bw / 2).attr("y", boxY - bh / 2)
        .attr("width", bw).attr("height", bh).attr("rx", 5)
        .attr("fill", "#fff").attr("stroke", mc).attr("stroke-width", 2.5);
      g.append("text")
        .attr("x", mx).attr("y", boxY)
        .attr("text-anchor", "middle").attr("dominant-baseline", "central")
        .attr("font-size", 23).attr("font-weight", "bold").attr("fill", mc)
        .text(m[1]);
    });

    if (showX) {
      xTickValues.forEach(function(v, k) {
        g.append("line").attr("x1", x(v)).attr("x2", x(v)).attr("y1", bottom).attr("y2", bottom + 10)
          .attr("stroke", "#CCCCCC").attr("stroke-width", 2);
        g.append("text")
          .attr("x", x(v)).attr("y", bottom + 36)
          .attr("text-anchor", "middle").attr("dominant-baseline", "central")
          .attr("font-size", 26).attr("fill", "#222")
          .text(xTickLabels[k]);
      });
      g.append("text")
        .attr("x", (axLeft + axRight) / 2).attr("y", bottom + 79)
        .attr("text-anchor", "middle").attr("dominant-baseline", "central")
        .attr("font-size", 33).attr("fill", "#111")
        .text("Distance from TSS (bp)");
    }
  }

  function drawLegend(svg) {
    var lg = svg.append("g").attr("class", "legend");
    lg.append("rect")
      .attr("x", 679).attr("y", 2591).attr("width", 2080).attr("height", 92).attr("rx", 8)
      .attr("fill", "#fff").attr("fill-opacity", 0.85)
      .attr("stroke", "#D0D0D0").attr("stroke-width", 2);
    lg.append("text")
      .attr("x", 1719).attr("y", 2614)
      .attr("text-anchor", "middle").attr("dominant-baseline", "central")
      .attr("font-size", 29).attr("fill", "#222")
      .text("Grammar elements contributing to fragility score");

    // items flow left to right like a one-row legend
    var cursor = 691;
    legendLabels.forEach(function(label, k) {
      lg.append("rect")
        .attr("x", cursor).attr("y", 2646).attr("width", 57).attr("height", 22)
        .attr("fill", legendColors[k]);
      var t = lg.append("text")
        .attr("x", cursor + 77).attr("y", 2657)
        .attr("dominant-baseline", "central")
        .attr("font-size", 29).attr("fill", "#222")
        .text(label);
      cursor += 77 + t.node().getComputedTextLength() + 56;
    });
  }

  return { init: init };
})();

Chart.init();
</script>
</body>
</html>
